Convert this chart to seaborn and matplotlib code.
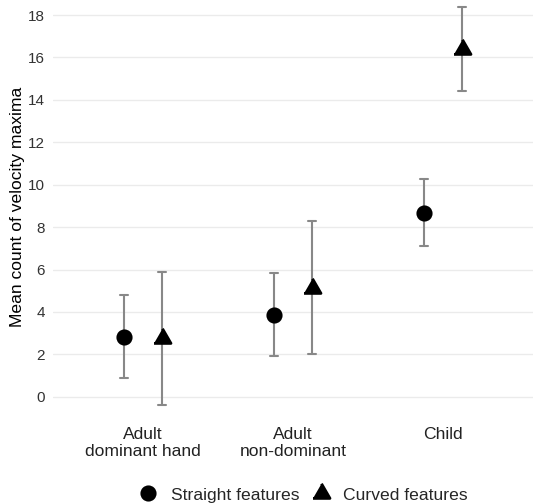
import matplotlib
matplotlib.use("Agg")
import matplotlib.pyplot as plt
import pandas as pd
import seaborn as sns

# values
groups = ["Adult\ndominant hand", "Adult\nnon-dominant", "Child"]
features = ["Straight features", "Curved features"]
straight_mean = [2.83, 3.88, 8.68]
straight_lo = [0.88, 1.90, 7.12]
straight_hi = [4.82, 5.86, 10.25]
curved_mean = [2.75, 5.15, 16.42]
curved_lo = [-0.39, 2.03, 14.43]
curved_hi = [5.90, 8.29, 18.40]
y_ticks = [0, 2, 4, 6, 8, 10, 12, 14, 16, 18]

# long table: lower, mean, upper per cell -> median = mean, min/max = interval
rows = []
for feat, lo, mid, hi in [
    (features[0], straight_lo, straight_mean, straight_hi),
    (features[1], curved_lo, curved_mean, curved_hi),
]:
    for g, a, m, b in zip(groups, lo, mid, hi):
        for v in (a, m, b):
            rows.append({"group": g, "feature": feat, "value": v})
df = pd.DataFrame(rows)

sns.set_theme(style="white")
plt.rcParams["font.family"] = ["Liberation Sans", "DejaVu Sans"]

triangle = [(-1.0, -0.577), (1.0, -0.577), (0.0, 1.155)]

fig = plt.figure(figsize=(5.33, 5.04), dpi=100)
ax = fig.add_axes([53 / 533, 79 / 504, 480 / 533, 425 / 504])
ax.yaxis.grid(True, color="#ebebeb", linewidth=1.0, zorder=0)
ax.set_axisbelow(True)

sns.pointplot(
    data=df, x="group", y="value", hue="feature", order=groups,
    hue_order=features, estimator="median",
    errorbar=lambda v: (v.min(), v.max()),
    dodge=0.25, linestyle="none", markers=["o", triangle],
    palette=["black", "black"], capsize=0.055,
    err_kws={"color": "#888888", "linewidth": 1.5},
    markersize=9.6, ax=ax,
)

# error bars grey, markers on top
for line in ax.lines:
    if line.get_marker() in (None, "None", "none", ""):
        line.set_color("#888888")
        line.set_zorder(2)
    else:
        line.set_zorder(3)
for line in ax.lines:
    if isinstance(line.get_marker(), list):
        line.set_markersize(14.1)

ax.set_ylim(-1.33, 18.71)
ax.set_xlim(-0.6, 2.6)
ax.set_yticks(y_ticks)
ax.set_xlabel("")
ax.set_ylabel("Mean count of velocity maxima", fontsize=12.6, color="black")
ax.yaxis.set_label_coords(-0.058, 0.513)
ax.tick_params(axis="y", length=0, pad=5.8, labelsize=11, labelcolor="#333333")
ax.tick_params(axis="x", length=0, pad=1.5, labelsize=12.6, labelcolor="#222222")
sns.despine(ax=ax, left=True, bottom=True)

handles, labels = ax.get_legend_handles_labels()
ax.get_legend().remove()
fig.legend(
    handles, labels, loc="center", bbox_to_anchor=(0.570, 0.018), ncol=2,
    frameon=False, fontsize=12.6, handlelength=1.0, handletextpad=0.77,
    columnspacing=0.75, markerscale=1.0,
)

fig.savefig("out.png", dpi=100)
